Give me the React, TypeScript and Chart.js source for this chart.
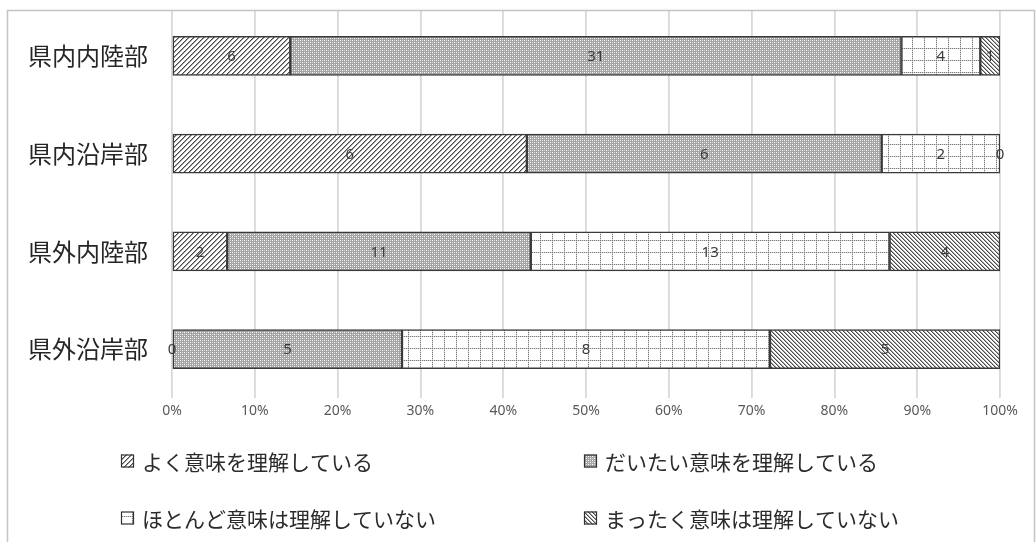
import { useEffect, useRef } from 'react';
import { Chart, registerables } from 'chart.js';
Chart.register(...registerables);

const categories = ['県内内陸部', '県内沿岸部', '県外内陸部', '県外沿岸部'];
const seriesNames = [
  'よく意味を理解している',
  'だいたい意味を理解している',
  'ほとんど意味は理解していない',
  'まったく意味は理解していない',
];
const wellUnderstand = [6, 6, 2, 0];
const roughlyUnderstand = [31, 6, 11, 5];
const hardlyUnderstand = [4, 2, 13, 8];
const notAtAll = [1, 0, 4, 5];
const tickStep = 10;

const counts = [wellUnderstand, roughlyUnderstand, hardlyUnderstand, notAtAll];

function makeTile(size: number, paint: (x: number, y: number) => string): HTMLCanvasElement {
  const c = document.createElement('canvas');
  c.width = size;
  c.height = size;
  const g = c.getContext('2d')!;
  for (let y = 0; y < size; y++) {
    for (let x = 0; x < size; x++) {
      g.fillStyle = paint(x, y);
      g.fillRect(x, y, 1, 1);
    }
  }
  return c;
}

export default function App() {
  const ref = useRef<HTMLCanvasElement>(null);
  useEffect(() => {
    const canvas = ref.current!;
    const ctx = canvas.getContext('2d')!;

    const tiles = [
      makeTile(5, (x, y) => {
        const m = (x + y) % 5;
        return m === 0 ? '#4a4a4a' : m === 1 ? '#a0a0a0' : '#ffffff';
      }),
      makeTile(4, (x, y) => {
        if ((x === 0 && y === 0) || (x === 2 && y === 2)) return '#ffffff';
        if ((x === 2 && y === 0) || (x === 0 && y === 2)) return '#d8d8d8';
        return '#a4a4a4';
      }),
      makeTile(12, (x, y) => {
        if (x === 0) return y % 2 === 0 ? '#7a7a7a' : '#d4d4d4';
        if (y === 0) return x % 2 === 0 ? '#7a7a7a' : '#d4d4d4';
        return '#ffffff';
      }),
      makeTile(4, (x, y) => {
        const m = (((x - y) % 4) + 4) % 4;
        return m === 0 ? '#4a4a4a' : m === 1 ? '#a8a8a8' : '#ffffff';
      }),
    ];
    const patterns = tiles.map((t) => ctx.createPattern(t, 'repeat')!);

    const totals = categories.map((_, i) => counts.reduce((s, arr) => s + arr[i], 0));

    const datasets = counts.map((arr, k) => ({
      label: seriesNames[k],
      data: arr.map((v, i) => (v / totals[i]) * 100),
      backgroundColor: patterns[k],
      borderColor: '#3a3a3a',
      borderWidth: 1.5,
      borderSkipped: false as const,
      barThickness: 39,
    }));

    const labelPlugin = {
      id: 'valueLabels',
      afterDatasetsDraw(chart: any) {
        const c = chart.ctx;
        c.save();
        c.font = '15px "Noto Sans", "DejaVu Sans", sans-serif';
        c.fillStyle = '#3a3a3a';
        c.textAlign = 'center';
        c.textBaseline = 'middle';
        chart.data.datasets.forEach((_: any, k: number) => {
          const meta = chart.getDatasetMeta(k);
          meta.data.forEach((el: any, i: number) => {
            const x = (el.x + el.base) / 2;
            c.fillText(String(counts[k][i]), x, el.y + 1);
          });
        });
        c.restore();
      },
    };

    const framePlugin = {
      id: 'frameLegend',
      afterDraw(chart: any) {
        const c = chart.ctx;
        c.save();
        c.fillStyle = '#ffffff';
        c.fillRect(0, 0, chart.width, 10);
        c.strokeStyle = '#c4c4c4';
        c.lineWidth = 1.5;
        c.strokeRect(7.5, 10.5, 1027, 545);

        const pos = [
          [121, 461],
          [584, 461],
          [121, 518],
          [584, 518],
        ];
        c.font = '21px "Noto Sans CJK JP", sans-serif';
        c.textBaseline = 'middle';
        c.textAlign = 'left';
        seriesNames.forEach((name, k) => {
          const [x, y] = pos[k];
          c.fillStyle = patterns[k];
          c.fillRect(x, y - 6.5, 13, 13);
          c.strokeStyle = '#303030';
          c.lineWidth = 1.2;
          c.strokeRect(x + 0.5, y - 6, 12, 12);
          c.fillStyle = '#2b2b2b';
          c.fillText(name, x + 21, y + 1);
        });
        c.restore();
      },
    };

    const chart = new Chart(ctx, {
      type: 'bar',
      data: { labels: categories, datasets },
      options: {
        indexAxis: 'y',
        responsive: true,
        maintainAspectRatio: false,
        animation: false,
        layout: { padding: { left: 0, right: 36, top: 7, bottom: 114 } },
        plugins: { legend: { display: false }, tooltip: { enabled: false } },
        scales: {
          x: {
            stacked: true,
            min: 0,
            max: 100,
            border: { display: false },
            grid: { color: '#d9d9d9', lineWidth: 1.8, drawTicks: false },
            ticks: {
              stepSize: tickStep,
              padding: 5,
              color: '#595959',
              font: { size: 14, family: '"Noto Sans", "DejaVu Sans", sans-serif' },
              callback: (v: any) => v + '%',
            },
            afterFit: (s: any) => {
              s.height = 30;
              s.paddingLeft = 0;
              s.paddingRight = 0;
            },
          },
          y: {
            stacked: true,
            border: { display: false },
            grid: { display: false, drawTicks: false },
            ticks: {
              padding: 24,
              color: '#262626',
              font: { size: 24, family: '"Noto Sans CJK JP", sans-serif' },
            },
            afterFit: (s: any) => {
              s.width = 172;
              s.paddingTop = 0;
              s.paddingBottom = 0;
            },
          },
        },
      },
      plugins: [labelPlugin, framePlugin],
    });
    return () => chart.destroy();
  }, []);
  return (
    <div style={{ position: 'fixed', left: 0, top: 0, width: 1036, height: 542, background: '#fff' }}>
      <canvas ref={ref} />
    </div>
  );
}
